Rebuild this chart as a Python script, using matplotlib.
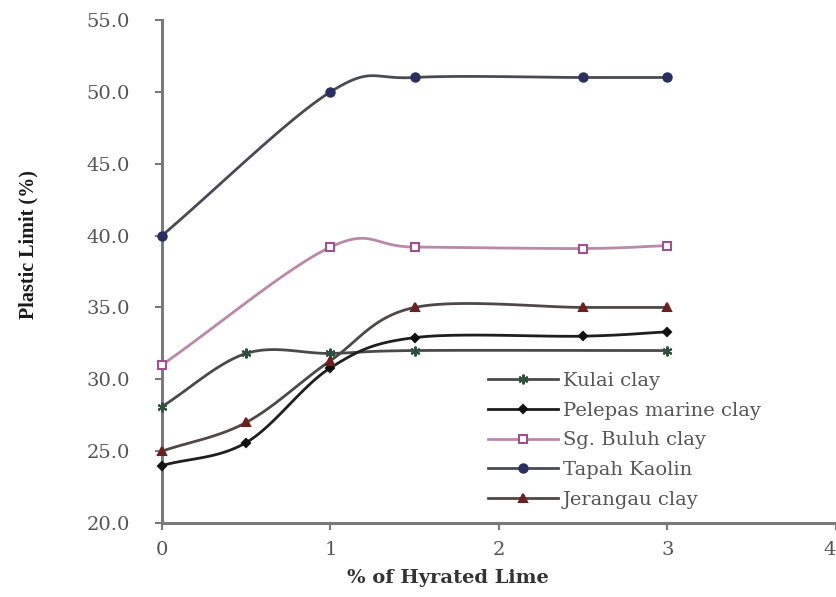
import numpy as np
import matplotlib.pyplot as plt

plt.rcParams['font.family'] = ['DejaVu Serif', 'Liberation Serif']

# plastic limit (%) against hydrated lime content (%)
lime_kulai = [0, 0.5, 1, 1.5, 3]
pl_kulai = [28.1, 31.8, 31.8, 32.0, 32.0]

lime = [0, 0.5, 1, 1.5, 2.5, 3]
pl_pelepas = [24.0, 25.6, 30.8, 32.9, 33.0, 33.3]
pl_jerangau = [25.0, 27.0, 31.3, 35.0, 35.0, 35.0]

lime_short = [0, 1, 1.5, 2.5, 3]
pl_buluh = [31.0, 39.2, 39.2, 39.1, 39.3]
pl_tapah = [40.0, 50.0, 51.0, 51.0, 51.0]

labels = ["Kulai clay", "Pelepas marine clay", "Sg. Buluh clay",
          "Tapah Kaolin", "Jerangau clay"]
yticks = [20, 25, 30, 35, 40, 45, 50, 55]
xticks = [0, 1, 2, 3, 4]


def smooth(xs, ys, n=24):
    # Catmull-Rom curve through the points, like a spreadsheet "smoothed line"
    p = np.column_stack([xs, ys]).astype(float)
    p = np.vstack([2 * p[0] - p[1], p, 2 * p[-1] - p[-2]])
    out = []
    t = np.linspace(0, 1, n)[:, None]
    for i in range(1, len(p) - 2):
        p0, p1, p2, p3 = p[i - 1], p[i], p[i + 1], p[i + 2]
        seg = 0.5 * ((2 * p1) + (-p0 + p2) * t
                     + (2 * p0 - 5 * p1 + 4 * p2 - p3) * t ** 2
                     + (-p0 + 3 * p1 - 3 * p2 + p3) * t ** 3)
        out.append(seg)
    c = np.vstack(out)
    return c[:, 0], c[:, 1]


W, H = 837, 597
fig = plt.figure(figsize=(W / 100, H / 100), dpi=100)
ax = fig.add_axes([162 / W, 1 - 523 / H, (836 - 162) / W, (523 - 20) / H])

series = [
    (lime_kulai, pl_kulai, "#4a4a4a", (6, 2, 0), "#2f4f3f", "#2f4f3f", 7),
    (lime, pl_pelepas, "#1e1e1e", "D", "#111111", "#111111", 4.5),
    (lime_short, pl_buluh, "#b98aa8", "s", "#a05090", "white", 6),
    (lime_short, pl_tapah, "#4a4a55", "o", "#2a2f60", "#2a2f60", 6),
    (lime, pl_jerangau, "#4e4848", "^", "#6a2020", "#6a2020", 5.5),
]

handles = []
for (xs, ys, lc, mk, mec, mfc, ms), lab in zip(series, labels):
    sx, sy = smooth(xs, ys)
    ax.plot(sx, sy, color=lc, lw=2.0, zorder=2)
    ax.plot(xs, ys, ls="none", marker=mk, ms=ms, mec=mec, mfc=mfc,
            mew=1.5, zorder=3, clip_on=False)
    h, = ax.plot([], [], color=lc, lw=2.0, marker=mk, ms=ms, mec=mec,
                 mfc=mfc, mew=1.5, label=lab)
    handles.append(h)

ax.set_xlim(0, 4)
ax.set_ylim(20, 55)
ax.set_xticks(xticks)
ax.set_yticks(yticks)
ax.set_yticklabels([f"{v:.1f}" for v in yticks])

for s in ["top", "right"]:
    ax.spines[s].set_visible(False)
for s in ["left", "bottom"]:
    ax.spines[s].set_color("#7a7a7a")
    ax.spines[s].set_linewidth(2.2)
ax.tick_params(axis="both", colors="#7a7a7a", labelcolor="#555555",
               labelsize=14, length=5, width=1.5, direction="out")
ax.tick_params(axis="y", pad=18)
ax.tick_params(axis="x", pad=8)
# last x label sits at the figure edge, keep it inside
ax.get_xticklabels()[-1].set_horizontalalignment("right")

# axis titles
fig.text(448 / W, 1 - 578 / H, "% of Hyrated Lime", fontsize=14,
         fontweight="bold", color="#333333", ha="center", va="center")
fig.text(28 / W, 1 - 245 / H, "Plastic Limit (%)", fontsize=14.5,
         fontweight="heavy", color="#1a1a1a", ha="center", va="center",
         rotation=90, family="Liberation Serif")

ax.legend(handles=handles, loc="upper left",
          bbox_to_anchor=(488 / W, 1 - 372 / H), bbox_transform=fig.transFigure,
          frameon=False, fontsize=14, handlelength=3.6, handletextpad=0.25,
          labelspacing=0.6, borderpad=0, borderaxespad=0,
          labelcolor="#555555")

fig.savefig("out.png", dpi=100)
